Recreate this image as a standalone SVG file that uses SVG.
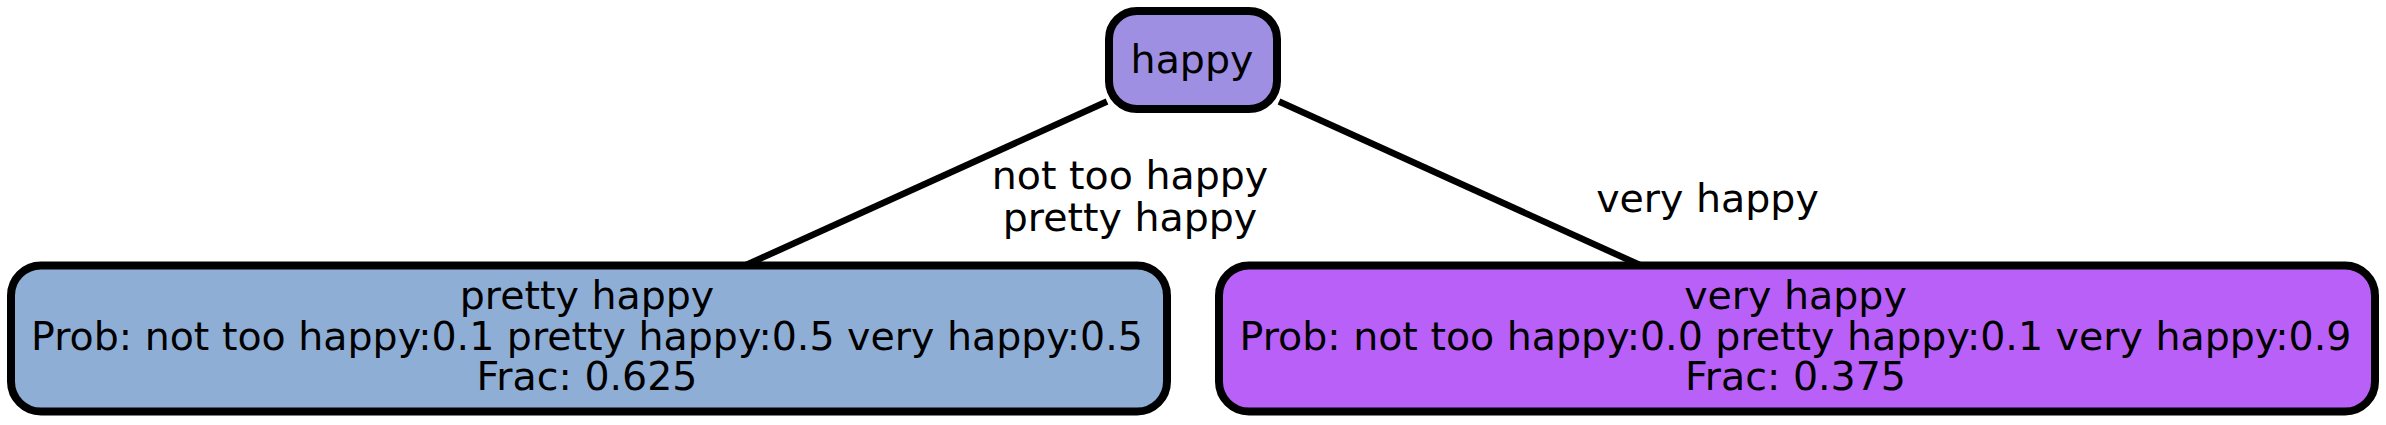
<svg xmlns="http://www.w3.org/2000/svg" width="2386" height="425" viewBox="0 0 2386 425">
<style>
text{font-family:"DejaVu Sans",Verdana,sans-serif;font-size:39.5px;fill:#000;text-anchor:middle}
.node rect{stroke:#000;stroke-width:8}
.edge{stroke:#000;stroke-width:6.5;fill:none}
</style>
<rect width="2386" height="425" fill="#fff"/>
<g id="connectors">
<line class="edge" x1="1107" y1="101.5" x2="745" y2="265.5"/>
<line class="edge" x1="1279" y1="101.5" x2="1641" y2="265.5"/>
<text x="1130" y="189">not too happy</text>
<text x="1130" y="231">pretty happy</text>
<text x="1707.5" y="211.5">very happy</text>
</g>
<g id="node-happy" class="node">
<rect x="1109" y="11" width="168" height="98" rx="28" fill="#9f8fe3"/>
<text x="1192" y="72.5">happy</text>
</g>
<g id="node-pretty-happy" class="node">
<rect x="11" y="265.5" width="1156" height="146" rx="30" fill="#8faed6"/>
<text x="587" y="309">pretty happy</text>
<text x="587" y="349.5">Prob: not too happy:0.1 pretty happy:0.5 very happy:0.5</text>
<text x="587" y="390">Frac: 0.625</text>
</g>
<g id="node-very-happy" class="node">
<rect x="1219" y="265.5" width="1156" height="146" rx="30" fill="#b960f8"/>
<text x="1795.5" y="309">very happy</text>
<text x="1795.5" y="349.5">Prob: not too happy:0.0 pretty happy:0.1 very happy:0.9</text>
<text x="1795.5" y="390">Frac: 0.375</text>
</g>
</svg>
